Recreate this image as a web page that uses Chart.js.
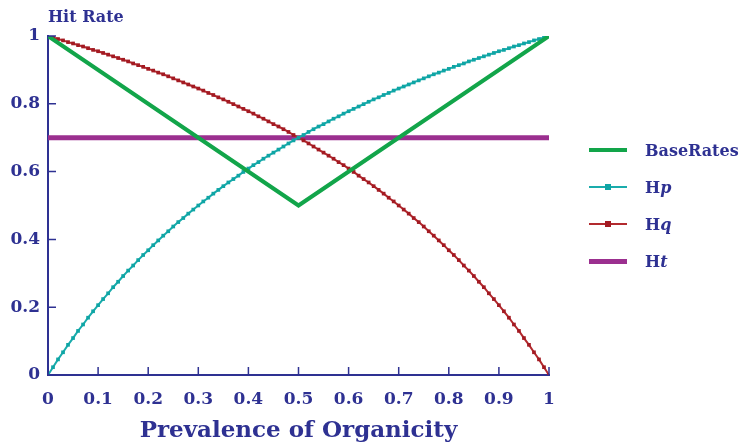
<!DOCTYPE html>
<html>
<head>
<meta charset="utf-8">
<script src="https://cdn.jsdelivr.net/npm/chart.js@4/dist/chart.umd.min.js"></script>
<style>
  body { margin: 0; background: #fff; }
  #wrap { position: relative; width: 743px; height: 445px; }
  #legend { position: absolute; left: 589px; top: 0; font: bold 16px "DejaVu Serif", serif; color: #2e3192; }
  .item { position: absolute; left: 0; width: 160px; height: 20px; }
  .line { position: absolute; left: 0; width: 38px; top: 50%; }
  .dot { position: absolute; left: 16px; width: 6px; height: 6px; top: 50%; margin-top: -3px; }
  .lbl { position: absolute; left: 56px; top: 50%; transform: translateY(-50%); white-space: nowrap; }
</style>
</head>
<body>
<div id="wrap">
  <canvas id="chart" width="743" height="445"></canvas>
  <div id="legend">
    <div class="item" style="top:140px"><div class="line" style="height:4px;margin-top:-2px;background:#12a54a"></div><div class="lbl">BaseRates</div></div>
    <div class="item" style="top:177px"><div class="line" style="height:2px;margin-top:-1px;background:#1aacac"></div><div class="dot" style="background:#0fa5a5"></div><div class="lbl">H<i>p</i></div></div>
    <div class="item" style="top:214px"><div class="line" style="height:2px;margin-top:-1px;background:#b22a2e"></div><div class="dot" style="background:#a31a22"></div><div class="lbl">H<i>q</i></div></div>
    <div class="item" style="top:251px"><div class="line" style="height:5px;margin-top:-2.5px;background:#9b2f8f"></div><div class="lbl">H<i>t</i></div></div>
  </div>
</div>
<script>
// prevalence grid (x) for the Hp / Hq curves
const prevalence = [
  0.00, 0.01, 0.02, 0.03, 0.04, 0.05, 0.06, 0.07, 0.08, 0.09,
  0.10, 0.11, 0.12, 0.13, 0.14, 0.15, 0.16, 0.17, 0.18, 0.19,
  0.20, 0.21, 0.22, 0.23, 0.24, 0.25, 0.26, 0.27, 0.28, 0.29,
  0.30, 0.31, 0.32, 0.33, 0.34, 0.35, 0.36, 0.37, 0.38, 0.39,
  0.40, 0.41, 0.42, 0.43, 0.44, 0.45, 0.46, 0.47, 0.48, 0.49,
  0.50, 0.51, 0.52, 0.53, 0.54, 0.55, 0.56, 0.57, 0.58, 0.59,
  0.60, 0.61, 0.62, 0.63, 0.64, 0.65, 0.66, 0.67, 0.68, 0.69,
  0.70, 0.71, 0.72, 0.73, 0.74, 0.75, 0.76, 0.77, 0.78, 0.79,
  0.80, 0.81, 0.82, 0.83, 0.84, 0.85, 0.86, 0.87, 0.88, 0.89,
  0.90, 0.91, 0.92, 0.93, 0.94, 0.95, 0.96, 0.97, 0.98, 0.99,
  1.00
];

const hp = [
  0.000, 0.023, 0.046, 0.067, 0.089, 0.109, 0.130, 0.149, 0.169, 0.188,
  0.206, 0.224, 0.241, 0.259, 0.275, 0.292, 0.308, 0.323, 0.339, 0.354,
  0.368, 0.383, 0.397, 0.411, 0.424, 0.438, 0.451, 0.463, 0.476, 0.488,
  0.500, 0.512, 0.523, 0.535, 0.546, 0.557, 0.568, 0.578, 0.588, 0.599,
  0.609, 0.619, 0.628, 0.638, 0.647, 0.656, 0.665, 0.674, 0.683, 0.692,
  0.700, 0.708, 0.717, 0.725, 0.733, 0.740, 0.748, 0.756, 0.763, 0.771,
  0.778, 0.785, 0.792, 0.799, 0.806, 0.813, 0.819, 0.826, 0.832, 0.839,
  0.845, 0.851, 0.857, 0.863, 0.869, 0.875, 0.881, 0.887, 0.892, 0.898,
  0.903, 0.909, 0.914, 0.919, 0.925, 0.930, 0.935, 0.940, 0.945, 0.950,
  0.955, 0.959, 0.964, 0.969, 0.973, 0.978, 0.982, 0.987, 0.991, 0.996,
  1.000
];

const hq = [
  1.000, 0.996, 0.991, 0.987, 0.982, 0.978, 0.973, 0.969, 0.964, 0.959,
  0.955, 0.950, 0.945, 0.940, 0.935, 0.930, 0.925, 0.919, 0.914, 0.909,
  0.903, 0.898, 0.892, 0.887, 0.881, 0.875, 0.869, 0.863, 0.857, 0.851,
  0.845, 0.839, 0.832, 0.826, 0.819, 0.813, 0.806, 0.799, 0.792, 0.785,
  0.778, 0.771, 0.763, 0.756, 0.748, 0.740, 0.733, 0.725, 0.717, 0.708,
  0.700, 0.692, 0.683, 0.674, 0.665, 0.656, 0.647, 0.638, 0.628, 0.619,
  0.609, 0.599, 0.588, 0.578, 0.568, 0.557, 0.546, 0.535, 0.523, 0.512,
  0.500, 0.488, 0.476, 0.463, 0.451, 0.438, 0.424, 0.411, 0.397, 0.383,
  0.368, 0.354, 0.339, 0.323, 0.308, 0.292, 0.275, 0.259, 0.241, 0.224,
  0.206, 0.188, 0.169, 0.149, 0.130, 0.109, 0.089, 0.067, 0.046, 0.023,
  0.000
];

const baseX = [0, 0.5, 1];
const baseRates = [1, 0.5, 1];

const htX = [0, 1];
const ht = [0.7, 0.7];

const xTicks = [0, 0.1, 0.2, 0.3, 0.4, 0.5, 0.6, 0.7, 0.8, 0.9, 1];
const yTicks = [0, 0.2, 0.4, 0.6, 0.8, 1];

const axisColor = '#2e3192';
const tickFont = { family: 'DejaVu Serif', size: 17, weight: 'bold' };

function pts(xs, ys) {
  return ys.map((y, i) => ({ x: xs[i], y: y }));
}

// inward tick marks + "Hit Rate" label
const extras = {
  id: 'extras',
  afterDraw(chart) {
    const c = chart.ctx, a = chart.chartArea;
    const xs = chart.scales.x, ys = chart.scales.y;
    c.save();
    c.strokeStyle = axisColor;
    c.lineWidth = 1.5;
    c.beginPath();
    xTicks.forEach(v => {
      const px = xs.getPixelForValue(v);
      c.moveTo(px, a.bottom);
      c.lineTo(px, a.bottom - 8);
    });
    yTicks.forEach(v => {
      const py = ys.getPixelForValue(v);
      c.moveTo(a.left, py);
      c.lineTo(a.left + 8, py);
    });
    c.stroke();
    c.fillStyle = axisColor;
    c.font = 'bold 16px "DejaVu Serif"';
    c.textBaseline = 'middle';
    c.textAlign = 'left';
    c.fillText('Hit Rate', a.left, 18);
    c.restore();
  }
};

new Chart(document.getElementById('chart'), {
  type: 'line',
  data: {
    datasets: [
      {
        label: 'BaseRates',
        data: pts(baseX, baseRates),
        borderColor: '#12a54a',
        borderWidth: 4,
        pointRadius: 0,
        tension: 0
      },
      {
        label: 'Hp',
        data: pts(prevalence, hp),
        borderColor: '#1aacac',
        backgroundColor: '#0fa5a5',
        borderWidth: 2,
        pointStyle: 'rect',
        pointRadius: 2.6,
        pointBorderWidth: 0,
        tension: 0
      },
      {
        label: 'Hq',
        data: pts(prevalence, hq),
        borderColor: '#b22a2e',
        backgroundColor: '#a31a22',
        borderWidth: 2,
        pointStyle: 'rect',
        pointRadius: 2.6,
        pointBorderWidth: 0,
        tension: 0
      },
      {
        label: 'Ht',
        data: pts(htX, ht),
        borderColor: '#9b2f8f',
        borderWidth: 5,
        pointRadius: 0,
        tension: 0
      }
    ]
  },
  options: {
    responsive: false,
    animation: false,
    events: [],
    layout: { padding: { top: 36, right: 194, left: 0, bottom: 0 } },
    plugins: { legend: { display: false }, tooltip: { enabled: false } },
    scales: {
      x: {
        type: 'linear',
        min: 0,
        max: 1,
        afterFit(s) { s.height = 70; },
        afterBuildTicks(s) { s.ticks = xTicks.map(v => ({ value: v })); },
        grid: { display: false },
        border: { display: true, color: axisColor, width: 2 },
        ticks: {
          color: axisColor,
          font: tickFont,
          padding: 6,
          maxRotation: 0,
          callback: v => String(v)
        },
        title: {
          display: true,
          text: 'Prevalence of Organicity',
          color: axisColor,
          font: { family: 'DejaVu Serif', size: 23, weight: 'bold' },
          padding: { top: 0, bottom: 0 }
        }
      },
      y: {
        min: 0,
        max: 1,
        afterFit(s) { s.width = 48; },
        afterBuildTicks(s) { s.ticks = yTicks.map(v => ({ value: v })); },
        grid: { display: false },
        border: { display: true, color: axisColor, width: 2 },
        ticks: {
          color: axisColor,
          font: tickFont,
          padding: 0,
          callback: v => String(v)
        }
      }
    }
  },
  plugins: [extras]
});
</script>
</body>
</html>
